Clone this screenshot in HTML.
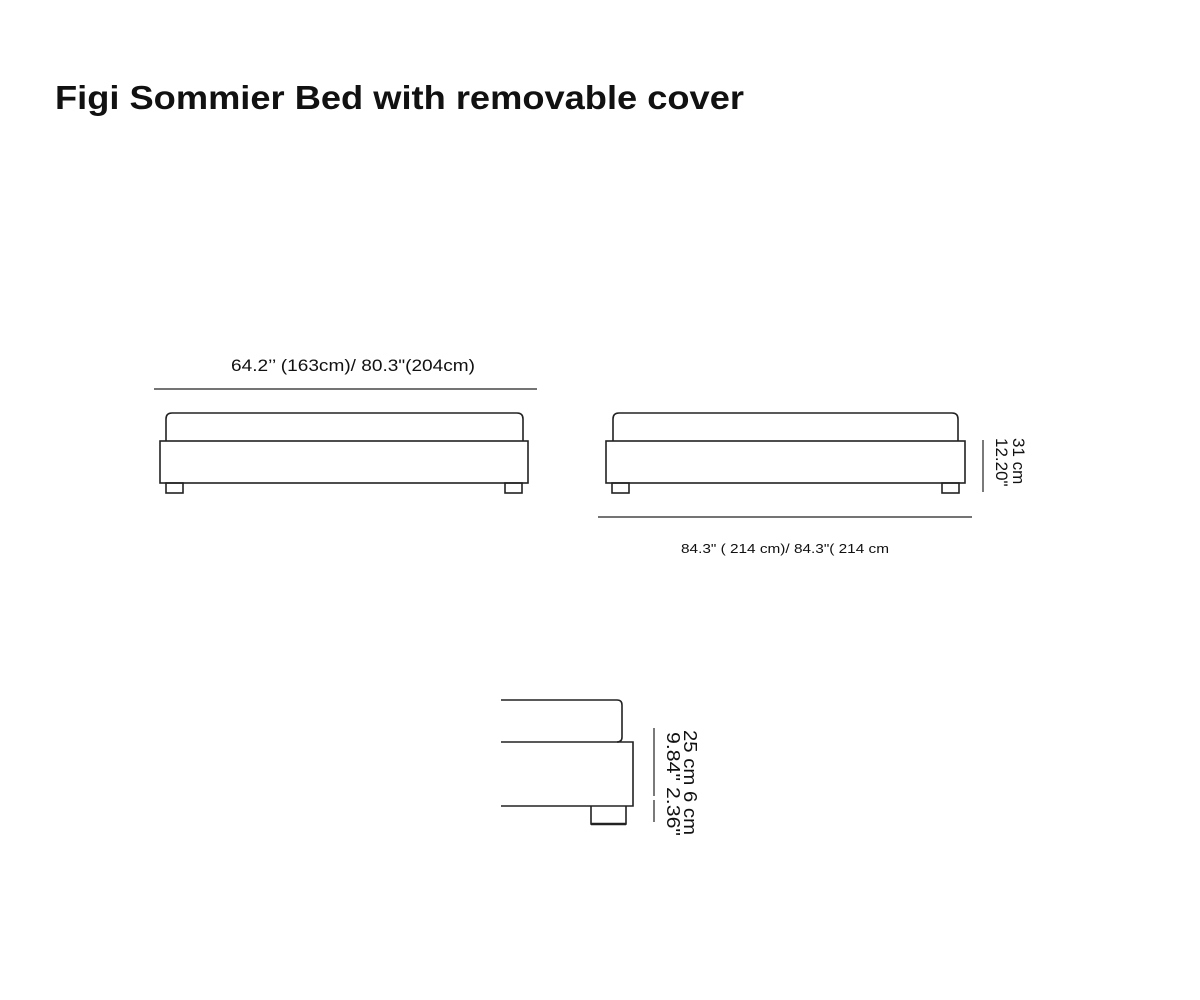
<!DOCTYPE html>
<html><head><meta charset="utf-8"><style>
html,body{margin:0;padding:0;background:#fff;}
svg{display:block;}
text{font-family:"Liberation Sans",sans-serif;fill:#111;}
</style></head><body>
<svg width="1200" height="1000" viewBox="0 0 1200 1000" xmlns="http://www.w3.org/2000/svg">
<text x="55" y="109" font-size="33" font-weight="bold" textLength="689" lengthAdjust="spacingAndGlyphs">Figi Sommier Bed with removable cover</text>

<g fill="none" stroke="#222" stroke-width="1.6">
<!-- left bed -->
<path d="M166,441 V419 Q166,413 172,413 H517 Q523,413 523,419 V441"/>
<rect x="160" y="441" width="368" height="42"/>
<rect x="166" y="483" width="17" height="10"/>
<rect x="505" y="483" width="17" height="10"/>
<line x1="154" y1="389" x2="537" y2="389" stroke-width="1.2"/>
<!-- right bed -->
<path d="M613,441 V419 Q613,413 619,413 H952 Q958,413 958,419 V441"/>
<rect x="606" y="441" width="359" height="42"/>
<rect x="612" y="483" width="17" height="10"/>
<rect x="942" y="483" width="17" height="10"/>
<line x1="598" y1="517" x2="972" y2="517" stroke-width="1.2"/>
<line x1="983" y1="440" x2="983" y2="492" stroke-width="1.2"/>
<!-- side view -->
<path d="M501,700 H617 Q622,700 622,705 V737 Q622,742 617,742"/>
<path d="M501,742 H633 V806 H501"/>
<path d="M591,806 V824 H626 V806"/>
<line x1="591" y1="824" x2="626" y2="824" stroke-width="2.5"/>
<line x1="654" y1="728" x2="654" y2="796" stroke-width="1.2"/>
<line x1="654" y1="800" x2="654" y2="822" stroke-width="1.2"/>
</g>

<text x="353" y="371" font-size="17" text-anchor="middle" textLength="244" lengthAdjust="spacingAndGlyphs">64.2’’ (163cm)/ 80.3"(204cm)</text>
<text x="785" y="553" font-size="13" text-anchor="middle" textLength="208" lengthAdjust="spacingAndGlyphs">84.3" ( 214 cm)/ 84.3"( 214 cm</text>

<text transform="translate(1013,438) rotate(90)" font-size="17">31 cm</text>
<text transform="translate(996,438) rotate(90)" font-size="17">12.20"</text>

<text transform="translate(684,730) rotate(90)" font-size="18" textLength="105" lengthAdjust="spacingAndGlyphs">25 cm  6 cm</text>
<text transform="translate(667,732) rotate(90)" font-size="18" textLength="104" lengthAdjust="spacingAndGlyphs">9.84"   2.36"</text>
</svg>
</body></html>
